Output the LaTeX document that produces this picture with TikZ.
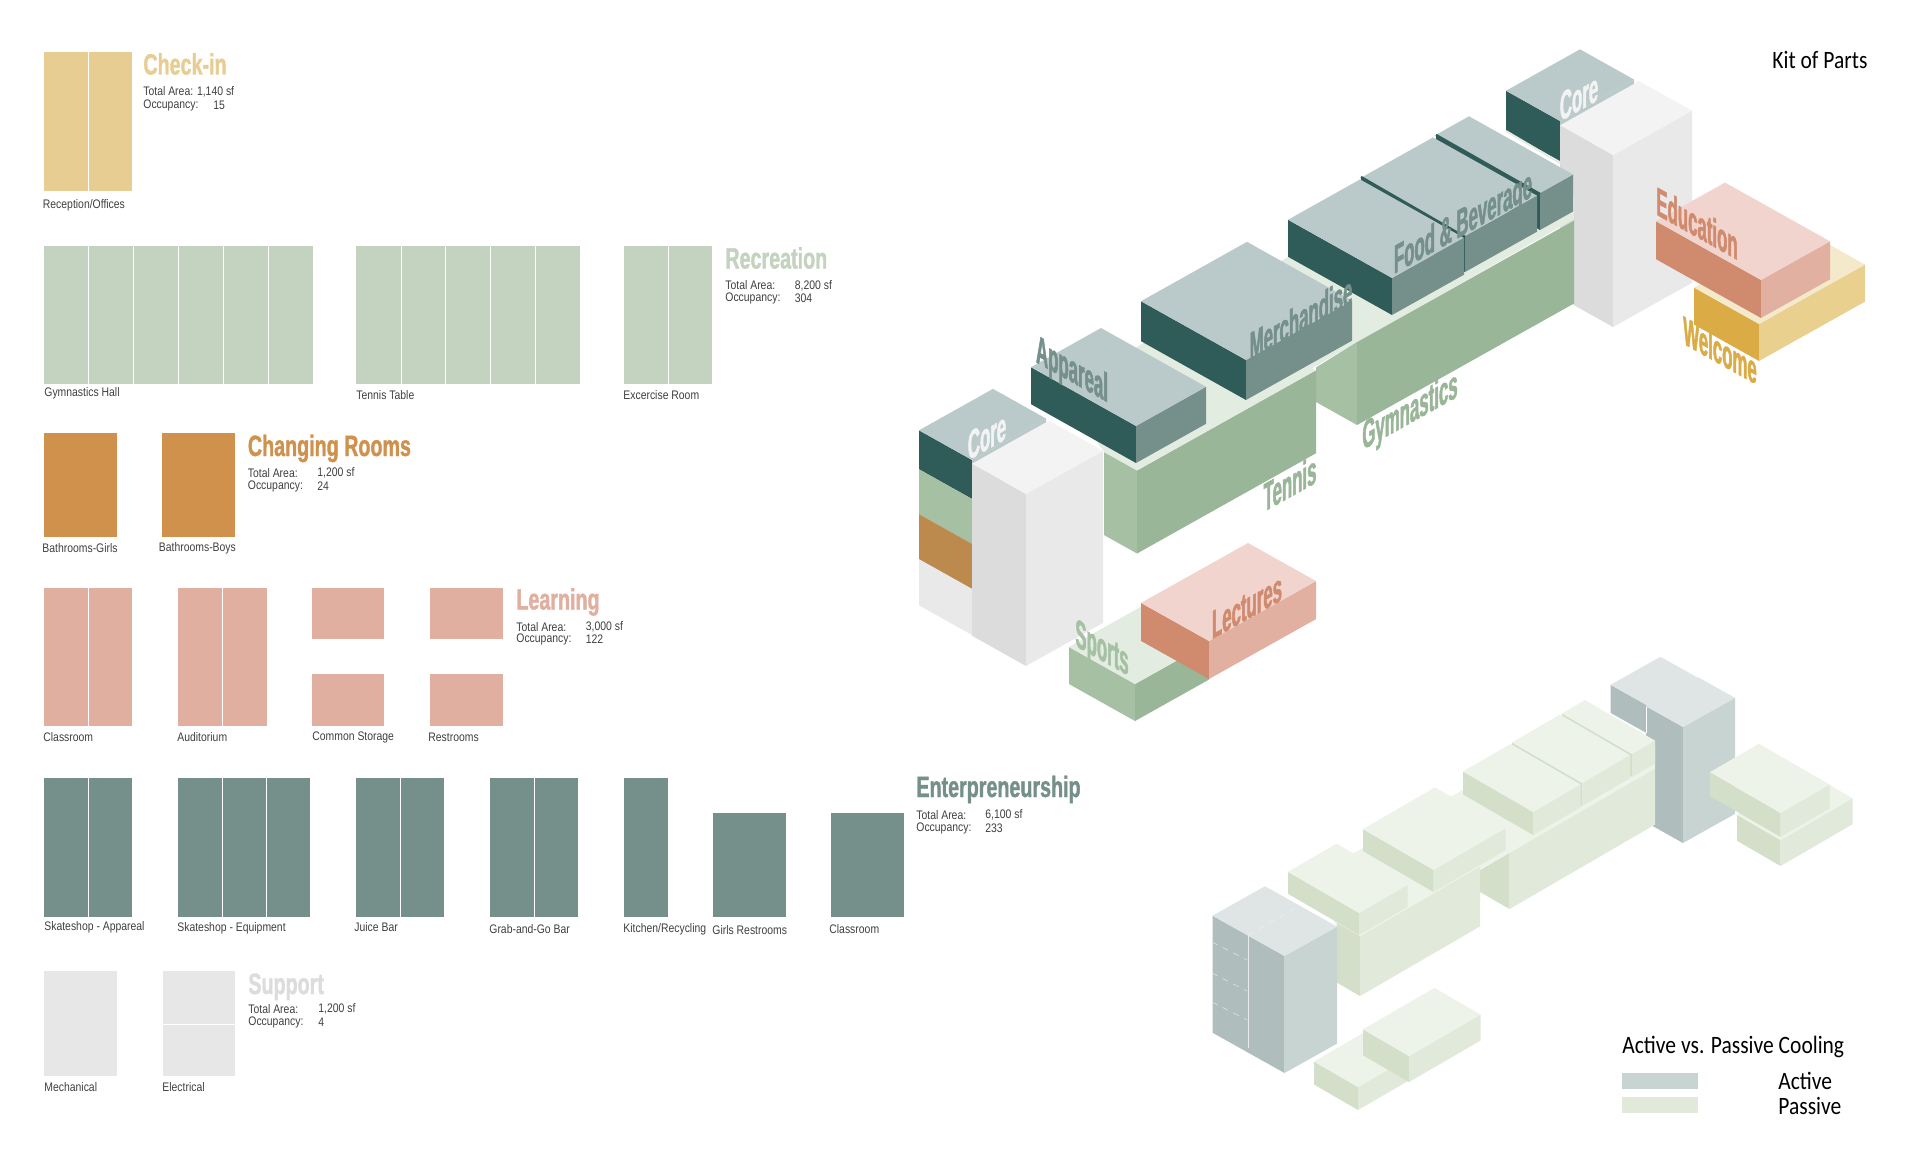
\documentclass[tikz,border=0pt]{standalone}
\usepackage{fontspec}
\setmainfont{Liberation Sans}
\newfontfamily\headfont[FakeStretch=0.67,FakeBold=1.2]{Liberation Sans Bold}
\newfontfamily\axofont[FakeStretch=0.42,FakeBold=1.2]{Liberation Sans Bold}
\newfontfamily\smallfont[FakeStretch=0.84]{Liberation Sans}
\newfontfamily\notefont[FakeStretch=0.86]{Carlito}
\definecolor{sand}{HTML}{E8CD92}
\definecolor{sage}{HTML}{C3D3BF}
\definecolor{ochre}{HTML}{CF914C}
\definecolor{blush}{HTML}{E0AF9F}
\definecolor{slate}{HTML}{758F8B}
\definecolor{fog}{HTML}{E7E7E7}
\definecolor{slatetop}{HTML}{BAC9C9}
\definecolor{slatedark}{HTML}{2F5C58}
\definecolor{mosstop}{HTML}{E3ECE1}
\definecolor{mossleft}{HTML}{A6C0A4}
\definecolor{mossright}{HTML}{9AB698}
\definecolor{coretop}{HTML}{F3F3F3}
\definecolor{coreleft}{HTML}{DCDCDC}
\definecolor{coreright}{HTML}{E9E9E9}
\definecolor{rosetop}{HTML}{F0D4CD}
\definecolor{roseleft}{HTML}{D08A6E}
\definecolor{roseright}{HTML}{E2B0A0}
\definecolor{goldtop}{HTML}{F5E9CB}
\definecolor{goldleft}{HTML}{DBAC45}
\definecolor{goldright}{HTML}{EAD08F}
\definecolor{bandorange}{HTML}{BD8A4E}
\definecolor{passtop}{HTML}{EEF3EA}
\definecolor{passleft}{HTML}{D4DFC9}
\definecolor{passright}{HTML}{E1E9DA}
\definecolor{acttop}{HTML}{DFE4E4}
\definecolor{actleft}{HTML}{B0BDBD}
\definecolor{actright}{HTML}{C8D4D2}
\tikzset{
  roomlbl/.style={anchor=west,inner sep=0pt,font=\smallfont\fontsize{6.2}{7}\selectfont,text=black!75},
  zonetitle/.style={anchor=base west,inner sep=0pt,font=\headfont\fontsize{14.7}{16}\selectfont},
  axolbl/.style={inner sep=0pt,font=\axofont\fontsize{20}{21}\selectfont},
  axoup/.style={axolbl,yslant=0.56},
  axodown/.style={axolbl,yslant=-0.56},
  notelbl/.style={anchor=west,inner sep=0pt,font=\notefont\fontsize{12.5}{14}\selectfont},
}
\begin{document}
\begin{tikzpicture}[x=0.5pt,y=-0.5pt]
  \useasboundingbox[fill=white] (0,0) rectangle (1920,1172);
  \def\slp{.56}
  \def\zone#1#2#3#4#5#6{\fill[#6] (#1,#2) rectangle ++(#3,#4);
    \foreach \k in {1,...,#5}{\draw[white,line width=0.4pt] ({#1+\k*#3/#5},#2) -- ++(0,#4);}}
  \def\blk#1#2#3#4#5#6#7#8{\fill[#7] (#1,#2) -- ++(-#4,-\slp*#4) -- ++(0,-#5) -- ++(#4,\slp*#4) -- cycle;
    \fill[#8] (#1,#2) -- ++(#3,-\slp*#3) -- ++(0,-#5) -- ++(-#3,\slp*#3) -- cycle;
    \fill[#6] (#1,#2) ++(0,-#5) -- ++(#3,-\slp*#3) -- ++(-#4,-\slp*#4) -- ++(-#3,\slp*#3) -- cycle;}
  % Row I : check-in
  \zone{44}{52}{88.5}{139}{2}{sand}
  \node[roomlbl] (reception) at (42.5,205) {Reception/Offices};
  \node[zonetitle,text=sand] (checkin) at (143,74.5) {Check-in};
  \node[roomlbl] (checkinA) at (143,91.5) {Total Area: 1,140 sf};
  \node[roomlbl] (checkinO) at (143,105) {Occupancy:};
  \node[roomlbl] (checkinN) at (213,105) {15};
  % Row II : recreation
  \zone{44}{246}{269}{138}{6}{sage}
  \zone{356}{246}{224.5}{138}{5}{sage}
  \zone{624}{246}{88.5}{138}{2}{sage}
  \node[roomlbl] (gymhall) at (44,393) {Gymnastics Hall};
  \node[roomlbl] (tabletennis) at (356,395) {Tennis Table};
  \node[roomlbl] (exercise) at (623,395.5) {Excercise Room};
  \node[zonetitle,text=sage] (recreation) at (725,268.5) {Recreation};
  \node[roomlbl] (recreationA) at (725,285.5) {Total Area:};
  \node[roomlbl] (recreationV) at (794.5,285.5) {8,200 sf};
  \node[roomlbl] (recreationO) at (725,298.5) {Occupancy:};
  \node[roomlbl] (recreationN) at (794.5,298.5) {304};
  % Row III : changing rooms
  \zone{44}{433}{73}{104}{1}{ochre}
  \zone{162}{433}{73}{104}{1}{ochre}
  \node[roomlbl] (girls) at (42,548) {Bathrooms-Girls};
  \node[roomlbl] (boys) at (158.5,548.5) {Bathrooms-Boys};
  \node[zonetitle,text=ochre] (changing) at (247.5,456) {Changing Rooms};
  \node[roomlbl] (changingA) at (247.5,473) {Total Area:};
  \node[roomlbl] (changingV) at (317,473) {1,200 sf};
  \node[roomlbl] (changingO) at (247.5,486) {Occupancy:};
  \node[roomlbl] (changingN) at (317,486) {24};
  % Row IV : learning
  \zone{44}{587.5}{88.5}{138.5}{2}{blush}
  \zone{178}{587.5}{89}{138.5}{2}{blush}
  \zone{312}{587.5}{72.5}{51.5}{1}{blush}
  \zone{312}{674}{72.5}{52}{1}{blush}
  \zone{430}{587.5}{73}{51.5}{1}{blush}
  \zone{430}{674}{73}{52}{1}{blush}
  \node[roomlbl] (classroomA) at (43,737) {Classroom};
  \node[roomlbl] (auditorium) at (177,737) {Auditorium};
  \node[roomlbl] (storage) at (312,737.5) {Common Storage};
  \node[roomlbl] (restrooms) at (428,737) {Restrooms};
  \node[zonetitle,text=blush] (learning) at (516,609.5) {Learning};
  \node[roomlbl] (learningA) at (516,627) {Total Area:};
  \node[roomlbl] (learningV) at (585.5,627) {3,000 sf};
  \node[roomlbl] (learningO) at (516,639.5) {Occupancy:};
  \node[roomlbl] (learningN) at (585.5,639.5) {122};
  % Row V : enterpreneurship
  \zone{44}{777.5}{88.5}{139.5}{2}{slate}
  \zone{178}{777.5}{132.5}{139.5}{3}{slate}
  \zone{356}{777.5}{88.5}{139.5}{2}{slate}
  \zone{490}{777.5}{88.5}{139.5}{2}{slate}
  \zone{623.5}{777.5}{44.5}{139.5}{1}{slate}
  \zone{713}{812.5}{73}{104.5}{1}{slate}
  \zone{831}{812.5}{73}{104.5}{1}{slate}
  \node[roomlbl] (apparelroom) at (44,927.5) {Skateshop - Appareal};
  \node[roomlbl] (equipment) at (177,928) {Skateshop - Equipment};
  \node[roomlbl] (juice) at (354,927.5) {Juice Bar};
  \node[roomlbl] (grab) at (489,929.5) {Grab-and-Go Bar};
  \node[roomlbl] (kitchen) at (623,929.5) {Kitchen/Recycling};
  \node[roomlbl] (girlsrest) at (712,930) {Girls Restrooms};
  \node[roomlbl] (classroomB) at (829,929.5) {Classroom};
  \node[zonetitle,text=slate] (enterprise) at (916,797) {Enterpreneurship};
  \node[roomlbl] (enterpriseA) at (916,815) {Total Area:};
  \node[roomlbl] (enterpriseV) at (985,815) {6,100 sf};
  \node[roomlbl] (enterpriseO) at (916,828) {Occupancy:};
  \node[roomlbl] (enterpriseN) at (985,828) {233};
  % Row VI : support
  \zone{44}{971}{73}{104.5}{1}{fog}
  \zone{162.5}{971}{72.5}{104.5}{1}{fog}
  \draw[white,line width=0.4pt] (162.5,1024) -- ++(72.5,0);
  \node[roomlbl] (mechanical) at (44,1087) {Mechanical};
  \node[roomlbl] (electrical) at (162,1087) {Electrical};
  \node[zonetitle,text=coreleft] (support) at (248,994) {Support};
  \node[roomlbl] (supportA) at (248,1009) {Total Area:};
  \node[roomlbl] (supportV) at (318,1009) {1,200 sf};
  \node[roomlbl] (supportO) at (248,1022) {Occupancy:};
  \node[roomlbl] (supportN) at (318,1022) {4};
  % Upper massing : far end
  \blk{1560}{161}{74}{54}{40}{slatetop}{slatedark}{slatetop}
  \draw[mosstop,line width=1pt] (1506,131) -- (1560,163);
  \blk{1613}{327}{79}{53}{172}{coretop}{coreleft}{coreright}
  \fill[goldtop] (1759,324) -- ++(106,-59) -- ++(-65,-36) -- ++(-106,59) -- cycle;
  \blk{1759}{361}{106}{65}{37}{goldtop}{goldleft}{goldright}
  \blk{1761}{318}{69}{105}{38}{rosetop}{roseleft}{roseright}
  % deck under the blocks
  \fill[mosstop] (1104,451.5) -- (1137,471) -- (1357,342) -- (1574,219) -- (1574,195) -- (1520,170)
    -- (1288,257) -- (1141,344.5) -- (1059,392.6) -- cycle;
  \blk{1540}{230}{33}{104}{37}{slatetop}{slatedark}{slate}
  \blk{1465}{272}{72}{104}{36}{slatetop}{slatedark}{slate}
  \draw[slatedark,line width=1.2pt] (1436,135) -- (1540,194);
  \blk{1392}{315}{72}{104}{37}{slatetop}{slatedark}{slate}
  \draw[slatedark,line width=1.2pt] (1361,177) -- (1465,237);
  \fill[mossleft] (1316,367.5) -- (1357,342) -- (1357,425) -- (1316,402) -- cycle;
  \blk{1357}{425}{217}{0}{83}{mosstop}{mossleft}{mossright}
  \blk{1137}{553.5}{179}{33}{83}{mosstop}{mossleft}{mossright}
  \blk{1246}{400}{106}{105}{40}{slatetop}{slatedark}{slate}
  \blk{1136}{463}{70}{105}{37}{slatetop}{slatedark}{slate}
  % Left core with its bands
  \blk{972}{499}{74}{53}{39}{slatetop}{slatedark}{slatetop}
  \blk{972}{544}{0}{53}{45}{mossleft}{mossleft}{mossleft}
  \blk{972}{589}{0}{53}{45}{bandorange}{bandorange}{bandorange}
  \blk{972}{635}{0}{53}{46}{coreright}{coreright}{coreright}
  \blk{1026}{666}{77}{54}{172}{coretop}{coreleft}{coreright}
  % Sports and lectures
  \blk{1135}{721}{74}{66}{37}{mosstop}{mossleft}{mossright}
  \blk{1209}{679}{107}{68}{38}{rosetop}{roseleft}{roseright}
  % Upper massing labels
  \node[axoup,text=coretop] (coreA) at (987,436) {Core};
  \node[axoup,text=coretop] (coreB) at (1579,97) {Core};
  \node[axodown,text=slate] (apparel) at (1072,372) {Appareal};
  \node[axoup,text=slate] (merch) at (1301,318) {Merchandise};
  \node[axoup,text=slate] (food) at (1463,225) {Food \& Beverage};
  \node[axoup,text=mossright] (tennis) at (1290,483) {Tennis};
  \node[axoup,text=mossright] (gym) at (1410,413) {Gymnastics};
  \node[axodown,text=roseleft] (education) at (1697,223) {Education};
  \node[axodown,text=goldleft] (welcome) at (1720,350) {Welcome};
  \node[axoup,text=roseleft] (lectures) at (1247,606) {Lectures};
  \node[axodown,text=mossleft] (sports) at (1102,651) {Sports};
  % Lower massing : active vs passive
  \blk{1646.5}{733}{50}{36}{28}{acttop}{actleft}{acttop}
  \blk{1683}{843}{52}{37}{116}{acttop}{actleft}{actright}
  \draw[white,line width=0.4pt] (1646.5,707) -- ++(0,26);
  \def\slp{.58}
  \blk{1780.5}{866}{72}{43.5}{26}{passtop}{passleft}{passright}
  \blk{1780.5}{837}{49}{70.5}{24}{passtop}{passleft}{passright}
  \fill[passtop] (1337,928) -- (1360,935) -- (1509.5,853) -- (1655,769) -- (1655,745) -- (1620,730)
    -- (1462.6,790) -- (1363,848) -- (1314,875) -- cycle;
  \blk{1632}{777}{23}{70}{23}{passtop}{passleft}{passright}
  \blk{1582}{806}{48}{70}{23}{passtop}{passleft}{passright}
  \blk{1533}{835}{47.5}{70}{23}{passtop}{passleft}{passright}
  \fill[passleft] (1480,870) -- (1509.5,853) -- (1509.5,909) -- (1480,892) -- cycle;
  \blk{1509.5}{909}{145.5}{0}{56}{passtop}{passleft}{passright}
  \blk{1360}{996}{120}{23}{60}{passtop}{passleft}{passright}
  \blk{1433.5}{892}{72}{70.5}{22}{passtop}{passleft}{passright}
  \blk{1359}{935}{48.5}{71}{22}{passtop}{passleft}{passright}
  \def\slp{.56}
  \blk{1284.5}{1073}{52.5}{72}{117}{acttop}{actleft}{actright}
  \draw[white!70!actleft,line width=0.4pt] (1248,935) -- ++(0,113);
  \foreach \y in {942,973,1002}{\draw[white!60!actleft,dashed,line width=0.3pt] (1212,\y) -- ++(35,18);}
  \draw[white!40!acttop,dashed,line width=0.3pt] (1248,935) -- (1300.5,905);
  \def\slp{.58}
  \blk{1358}{1110}{50}{44}{23}{passtop}{passleft}{passright}
  \blk{1409}{1082}{71.5}{46}{26}{passtop}{passleft}{passright}
  % Titles and legend
  \node[notelbl] (kit) at (1772,60) {Kit of Parts};
  \node[notelbl] (legend) at (1622,1047) {Active vs. Passive Cooling};
  \fill[actright] (1622,1073) rectangle (1698,1089);
  \fill[passright] (1622,1097) rectangle (1698,1113);
  \node[notelbl] (active) at (1778,1081) {Active};
  \node[notelbl] (passive) at (1778,1106) {Passive};
\end{tikzpicture}
\end{document}
